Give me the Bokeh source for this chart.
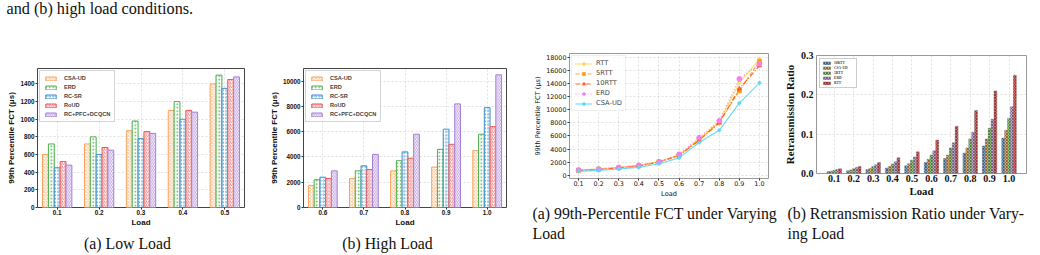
from bokeh.plotting import figure
from bokeh.layouts import row, column
from bokeh.models import Range1d, FixedTicker, Label, PrintfTickFormatter
from bokeh.embed import file_html
from bokeh.resources import INLINE

# ---------------- data ----------------
low_loads = ["0.1", "0.2", "0.3", "0.4", "0.5"]
high_loads = ["0.6", "0.7", "0.8", "0.9", "1.0"]
bar_series = ["CSA-UD", "ERD", "RC-SR", "RoUD", "RC+PFC+DCQCN"]

low_csa = [600, 720, 870, 1100, 1400]
low_erd = [720, 800, 980, 1200, 1500]
low_rcsr = [450, 600, 780, 1000, 1350]
low_roud = [520, 680, 860, 1100, 1450]
low_pfc = [480, 650, 840, 1080, 1480]

high_csa = [1750, 2300, 2900, 3200, 4500]
high_erd = [2200, 2900, 3700, 4600, 5800]
high_rcsr = [2400, 3300, 4400, 6200, 7900]
high_roud = [2300, 3000, 3900, 5000, 6400]
high_pfc = [2900, 4200, 5800, 8200, 10500]

line_loads = [0.1, 0.2, 0.3, 0.4, 0.5, 0.6, 0.7, 0.8, 0.9, 1.0]
line_series = ["RTT", "5RTT", "10RTT", "ERD", "CSA-UD"]
fct_rtt = [800, 950, 1200, 1500, 2100, 3100, 5500, 8200, 14100, 17700]
fct_5rtt = [750, 900, 1150, 1450, 2050, 3000, 5400, 8100, 12900, 17400]
fct_10rtt = [700, 880, 1100, 1400, 2000, 3000, 5300, 8000, 13200, 16700]
fct_erd = [800, 950, 1200, 1500, 2000, 3200, 5750, 8300, 14700, 17000]
fct_csa = [600, 750, 950, 1200, 1750, 2650, 5000, 6850, 11000, 14100]

retx_loads = ["0.1", "0.2", "0.3", "0.4", "0.5", "0.6", "0.7", "0.8", "0.9", "1.0"]
retx_series = ["10RTT", "CSA-UD", "5RTT", "ERD", "RTT"]
retx_10rtt = [0.005, 0.007, 0.010, 0.014, 0.020, 0.028, 0.038, 0.052, 0.070, 0.090]
retx_csa = [0.006, 0.009, 0.013, 0.018, 0.025, 0.036, 0.047, 0.065, 0.088, 0.110]
retx_5rtt = [0.008, 0.012, 0.018, 0.024, 0.034, 0.047, 0.065, 0.088, 0.115, 0.140]
retx_erd = [0.010, 0.015, 0.022, 0.030, 0.042, 0.058, 0.078, 0.105, 0.138, 0.170]
retx_rtt = [0.012, 0.018, 0.028, 0.040, 0.055, 0.085, 0.120, 0.160, 0.210, 0.250]

SERIF = "Liberation Serif"


def text_fig(width, height, lines):
    """A blank strip that only carries caption text (lines: (text, x, y_from_top, align, size))."""
    f = figure(width=width, height=height, output_backend="svg", toolbar_location=None,
               x_range=Range1d(0, width), y_range=Range1d(0, height),
               x_axis_location=None, y_axis_location=None, min_border=0)
    f.outline_line_color = None
    f.grid.visible = False
    for text, x, yt, align, size in lines:
        f.add_layout(Label(x=x, y=height - yt, text=text, text_font=SERIF,
                           text_font_size=size, text_color="#111111",
                           text_align=align, text_baseline="middle"))
    # wrap so that the strip is not frame-aligned with the chart above it
    return row(f, spacing=0)


def style_axes(p, font, tick_size, label_size, bold=True):
    for ax in (p.xaxis[0], p.yaxis[0]):
        ax.axis_line_color = None
        ax.major_tick_line_color = "#333333"
        ax.major_tick_out = 2
        ax.major_tick_in = 0
        ax.minor_tick_line_color = None
        ax.major_label_text_font = font
        ax.major_label_text_font_size = tick_size
        ax.major_label_text_font_style = "bold" if bold else "normal"
        ax.major_label_text_color = "#111111"
        ax.axis_label_text_font = font
        ax.axis_label_text_font_size = label_size
        ax.axis_label_text_font_style = "bold" if bold else "normal"
        ax.axis_label_text_color = "#111111"
        ax.major_label_standoff = 1
        ax.axis_label_standoff = 1
    p.xaxis.major_label_standoff = 0
    for g in (p.xgrid[0], p.ygrid[0]):
        g.grid_line_color = "#cccccc"
        g.grid_line_dash = "2 2"
        g.grid_line_width = 0.6


def bar_fig(width, height, mb, cats, series_vals, ymax, yticks, ylabel):
    p = figure(width=width, height=height, output_backend="svg", toolbar_location=None,
               x_range=Range1d(-0.47, 4.47), y_range=Range1d(0, ymax),
               min_border_left=mb[0], min_border_right=mb[1],
               min_border_top=mb[2], min_border_bottom=mb[3])
    p.outline_line_color = "#444444"
    p.outline_line_width = 1
    colors = ["#f7a35c", "#4cb04c", "#3d8fcc", "#f05454", "#a67fd6"]
    hatches = ["diagonal_cross", "dot", "ring", "right_diagonal_line", "left_diagonal_line"]
    w = 0.14
    for i, (name, vals) in enumerate(zip(bar_series, series_vals)):
        xs = [k + (i - 2) * w for k in range(len(cats))]
        p.vbar(x=xs, top=vals, width=w, fill_color="white", line_color=colors[i],
               line_width=1, hatch_pattern=hatches[i], hatch_color=colors[i],
               hatch_scale=3.5, hatch_weight=0.7, legend_label=name)
    p.xaxis.ticker = FixedTicker(ticks=list(range(len(cats))))
    p.xaxis.major_label_overrides = {k: c for k, c in enumerate(cats)}
    p.yaxis.ticker = FixedTicker(ticks=yticks)
    p.xaxis.axis_label = "Load"
    p.yaxis.axis_label = ylabel
    style_axes(p, "Liberation Sans", "6.3px", "8px")
    p.xaxis.axis_label_standoff = 0
    lg = p.legend[0]
    lg.location = "top_left"
    lg.margin = 2
    lg.padding = 4
    lg.spacing = 3
    lg.label_text_font = "Liberation Sans"
    lg.label_text_font_style = "bold"
    lg.label_text_font_size = "5.6px"
    lg.label_height = 6
    lg.glyph_height = 5
    lg.glyph_width = 13
    lg.label_standoff = 7
    lg.border_line_color = "#aaaaaa"
    lg.border_line_width = 0.8
    lg.background_fill_alpha = 0.9
    return p


# ---------- (a) Low Load ----------
top1 = text_fig(262, 18, [("and (b) high load conditions.", 6, 8, "left", "16.2px")])
p1 = bar_fig(262, 212, (37, 18, 50, 23), low_loads,
             [low_csa, low_erd, low_rcsr, low_roud, low_pfc], 1575,
             list(range(0, 1401, 200)), "99th Percentile FCT (μs)")
cap1 = text_fig(262, 25, [("(a) Low Load", 127, 13, "center", "15.8px")])

# ---------- (b) High Load ----------
p2 = bar_fig(258, 230, (41, 14, 68, 23), high_loads,
             [high_csa, high_erd, high_rcsr, high_roud, high_pfc], 11000,
             list(range(0, 10001, 2000)), "99th Percentile FCT (μs)")
cap2 = text_fig(258, 25, [("(b) High Load", 125, 13, "center", "15.8px")])

# ---------- line chart ----------
p3 = figure(width=260, height=200, output_backend="svg", toolbar_location=None,
            x_range=Range1d(0.055, 1.045), y_range=Range1d(-500, 18575),
            min_border_left=49, min_border_right=12, min_border_top=53, min_border_bottom=22)
p3.outline_line_color = "#999999"
line_vals = [fct_rtt, fct_5rtt, fct_10rtt, fct_erd, fct_csa]
line_colors = ["#ffd966", "#ffa31a", "#ff5a1f", "#f27ff0", "#5ed8f5"]
line_dashes = ["solid", "4 2", "5 2 1 2", "1 2", "solid"]
line_markers = ["circle", "square", "triangle", "hex", "plus"]
line_msize = [3, 4, 4, 5, 3]
for name, vals, c, d, m, s in zip(line_series, line_vals, line_colors, line_dashes,
                                  line_markers, line_msize):
    p3.line(x=line_loads, y=vals, line_color=c, line_dash=d, line_width=1.2,
            line_alpha=0.9, legend_label=name)
    p3.scatter(x=line_loads, y=vals, marker=m, size=s, fill_color=c, line_color=c,
               legend_label=name)
p3.xaxis.ticker = FixedTicker(ticks=line_loads)
p3.xaxis.formatter = PrintfTickFormatter(format="%.1f")
p3.yaxis.ticker = FixedTicker(ticks=list(range(0, 18001, 2000)))
p3.xaxis.axis_label = "Load"
p3.yaxis.axis_label = "99th Percentile FCT (μs)"
style_axes(p3, "DejaVu Sans", "6.4px", "6.6px", bold=False)
lg3 = p3.legend[0]
lg3.location = "top_left"
lg3.margin = 2
lg3.padding = 3
lg3.spacing = 2
lg3.label_text_font = "DejaVu Sans"
lg3.label_text_font_size = "6.7px"
lg3.label_height = 7
lg3.glyph_height = 7
lg3.glyph_width = 17
lg3.label_standoff = 4
lg3.border_line_color = "#dddddd"
lg3.background_fill_alpha = 0.8
cap3 = text_fig(260, 55, [("(a) 99th-Percentile FCT under Varying", 12, 13, "left", "15.8px"),
                          ("Load", 12, 33, "left", "15.8px")])

# ---------- retransmission ratio ----------
p4 = figure(width=260, height=200, output_backend="svg", toolbar_location=None,
            x_range=Range1d(-0.92, 9.9), y_range=Range1d(0, 0.3),
            min_border_left=35, min_border_right=14, min_border_top=55, min_border_bottom=27)
p4.outline_line_color = "#999999"
retx_vals = [retx_10rtt, retx_csa, retx_5rtt, retx_erd, retx_rtt]
retx_colors = ["#6fa6d6", "#f2a65e", "#8ccf6e", "#c2a3dc", "#e4605e"]
w4 = 0.15
for i, (name, vals) in enumerate(zip(retx_series, retx_vals)):
    xs = [k + (i - 2) * w4 for k in range(len(retx_loads))]
    p4.vbar(x=xs, top=vals, width=w4, fill_color=retx_colors[i], line_color="#777777",
            line_width=0.4, hatch_pattern="diagonal_cross", hatch_color="#222222",
            hatch_alpha=0.85, hatch_scale=3, hatch_weight=0.6, legend_label=name)
p4.xaxis.ticker = FixedTicker(ticks=list(range(len(retx_loads))))
p4.xaxis.major_label_overrides = {k: c for k, c in enumerate(retx_loads)}
p4.yaxis.ticker = FixedTicker(ticks=[0.0, 0.1, 0.2, 0.3])
p4.yaxis.formatter = PrintfTickFormatter(format="%.1f")
p4.xaxis.axis_label = "Load"
p4.yaxis.axis_label = "Retransmission Ratio"
style_axes(p4, SERIF, "10px", "10.8px")
p4.xaxis.major_tick_out = 0
p4.yaxis.major_tick_out = 0
p4.xaxis.major_label_standoff = 1
p4.yaxis.major_label_standoff = 3
p4.xaxis.axis_label_standoff = 0
p4.yaxis.axis_label_standoff = 2
lg4 = p4.legend[0]
lg4.location = "top_left"
lg4.margin = 3
lg4.padding = 2
lg4.spacing = 1
lg4.label_text_font = SERIF
lg4.label_text_font_style = "bold"
lg4.label_text_font_size = "3.6px"
lg4.label_height = 4
lg4.glyph_height = 4
lg4.glyph_width = 9
lg4.label_standoff = 3
lg4.border_line_color = "#999999"
lg4.border_line_width = 0.6
cap4 = text_fig(260, 55, [("(b) Retransmission Ratio under Vary-", 7, 13, "left", "15.8px"),
                          ("ing Load", 7, 33, "left", "15.8px")])

layout = row(column(top1, p1, cap1, spacing=0), column(p2, cap2, spacing=0),
             column(p3, cap3, spacing=0), column(p4, cap4, spacing=0), spacing=0)
open("out.html", "w").write(file_html(layout, INLINE))
